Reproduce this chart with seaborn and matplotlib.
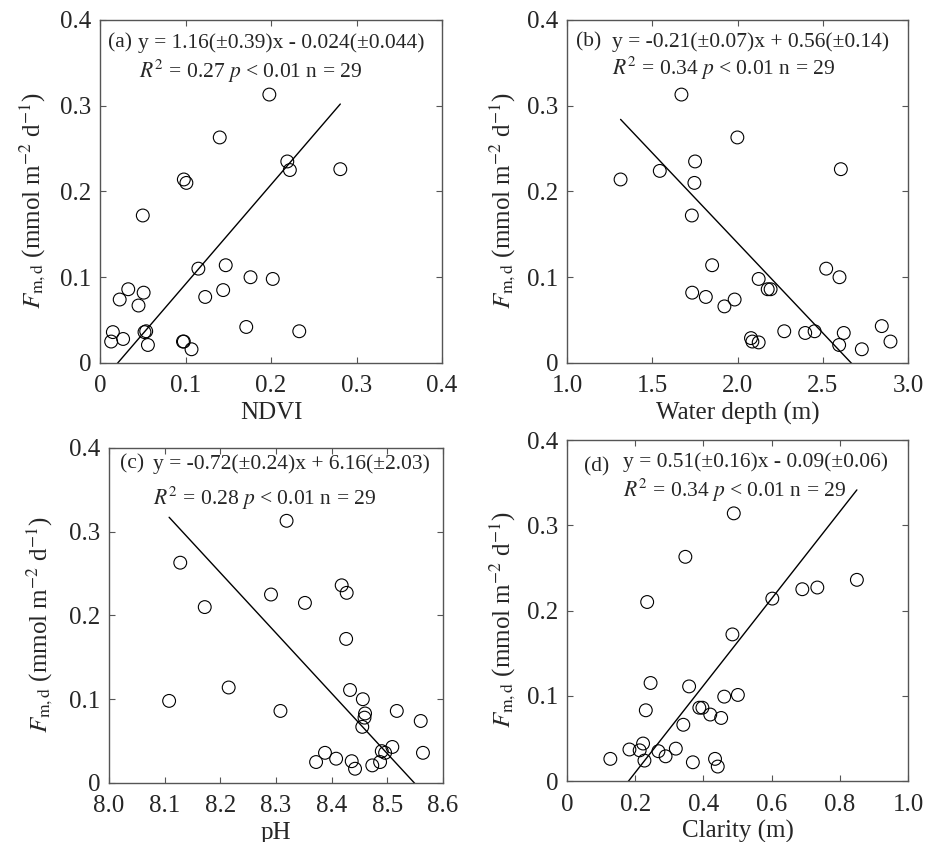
import numpy as np
import pandas as pd
import matplotlib
matplotlib.use("Agg")
import matplotlib.pyplot as plt
import seaborn as sns

# Fm,d (mmol m-2 d-1) against four drivers, n = 29 each
ndvi = [0.198, 0.140, 0.219, 0.222, 0.281, 0.098, 0.101, 0.050, 0.115, 0.147,
        0.176, 0.202, 0.144, 0.123, 0.033, 0.023, 0.051, 0.045, 0.015, 0.013,
        0.027, 0.052, 0.054, 0.056, 0.097, 0.098, 0.107, 0.171, 0.233]
flux_a = [0.313, 0.263, 0.235, 0.225, 0.226, 0.214, 0.210, 0.172, 0.110, 0.114,
          0.100, 0.098, 0.085, 0.077, 0.086, 0.074, 0.082, 0.067, 0.036, 0.025,
          0.028, 0.036, 0.037, 0.021, 0.025, 0.025, 0.016, 0.042, 0.037]

depth = [1.671, 1.999, 2.606, 1.751, 1.544, 1.314, 1.747, 1.732, 1.851, 2.520,
         2.598, 2.124, 2.177, 2.194, 1.734, 1.814, 1.983, 1.923, 2.079, 2.087,
         2.124, 2.274, 2.397, 2.452, 2.623, 2.596, 2.729, 2.846, 2.897]
flux_b = [0.313, 0.263, 0.226, 0.235, 0.224, 0.214, 0.210, 0.172, 0.114, 0.110,
          0.100, 0.098, 0.086, 0.086, 0.082, 0.077, 0.074, 0.066, 0.029, 0.025,
          0.024, 0.037, 0.035, 0.037, 0.035, 0.021, 0.016, 0.043, 0.025]

ph = [8.319, 8.128, 8.172, 8.291, 8.352, 8.418, 8.427, 8.426, 8.215, 8.108,
      8.308, 8.433, 8.456, 8.460, 8.459, 8.455, 8.517, 8.560, 8.564, 8.388,
      8.372, 8.408, 8.436, 8.442, 8.473, 8.487, 8.490, 8.496, 8.509]
flux_c = [0.313, 0.263, 0.210, 0.225, 0.215, 0.236, 0.227, 0.172, 0.114, 0.098,
          0.086, 0.111, 0.100, 0.083, 0.078, 0.067, 0.086, 0.074, 0.036, 0.036,
          0.025, 0.029, 0.026, 0.017, 0.021, 0.025, 0.038, 0.036, 0.043]

clarity = [0.489, 0.347, 0.850, 0.690, 0.734, 0.602, 0.235, 0.485, 0.245, 0.358,
           0.461, 0.501, 0.231, 0.388, 0.397, 0.420, 0.452, 0.341, 0.127, 0.183,
           0.213, 0.223, 0.227, 0.268, 0.289, 0.319, 0.369, 0.434, 0.442]
flux_d = [0.314, 0.263, 0.236, 0.225, 0.227, 0.214, 0.210, 0.172, 0.115, 0.111,
          0.099, 0.101, 0.083, 0.086, 0.086, 0.078, 0.074, 0.066, 0.026, 0.037,
          0.036, 0.044, 0.024, 0.035, 0.029, 0.038, 0.022, 0.026, 0.017]

# regression slope / intercept per panel
fit_a = (1.16, -0.024)
fit_b = (-0.21, 0.56)
fit_c = (-0.72, 6.155)
fit_d = (0.51, -0.092)

sns.set_theme(style="ticks")
plt.rcParams["font.family"] = ["Liberation Serif", "DejaVu Serif"]
plt.rcParams["mathtext.fontset"] = "stix"
plt.rcParams["xtick.direction"] = "in"
plt.rcParams["ytick.direction"] = "in"

fig = plt.figure(figsize=(9.34, 8.42), dpi=100)

panels = [
    dict(pos=[0.1071, 0.5689, 0.3662, 0.4074], x=ndvi, y=flux_a, fit=fit_a,
         xlim=(0, 0.4), xticks=[0, 0.1, 0.2, 0.3, 0.4],
         xtl=["0", "0.1", "0.2", "0.3", "0.4"], xlabel="NDVI", ylx=-0.196,
         tag="(a)", tag_xy=(0.024, 0.933),
         eq="y = 1.16(±0.39)x - 0.024(±0.044)", eq_xy=(0.112, 0.933),
         st="$R^2$ = 0.27 $p$ < 0.01 n = 29", st_xy=(0.115, 0.849)),
    dict(pos=[0.6071, 0.5689, 0.3651, 0.4074], x=depth, y=flux_b, fit=fit_b,
         xlim=(1.0, 3.0), xticks=[1.0, 1.5, 2.0, 2.5, 3.0],
         xtl=["1.0", "1.5", "2.0", "2.5", "3.0"], xlabel="Water depth (m)",
         ylx=-0.19,
         tag="(b)", tag_xy=(0.026, 0.936),
         eq="y = -0.21(±0.07)x + 0.56(±0.14)", eq_xy=(0.131, 0.936),
         st="$R^2$ = 0.34 $p$ < 0.01 n = 29", st_xy=(0.131, 0.859)),
    dict(pos=[0.1167, 0.0701, 0.3576, 0.3979], x=ph, y=flux_c, fit=fit_c,
         xlim=(8.0, 8.6), xticks=[8.0, 8.1, 8.2, 8.3, 8.4, 8.5, 8.6],
         xtl=["8.0", "8.1", "8.2", "8.3", "8.4", "8.5", "8.6"], xlabel="pH",
         ylx=-0.207,
         tag="(c)", tag_xy=(0.033, 0.953),
         eq="y = -0.72(±0.24)x + 6.16(±2.03)", eq_xy=(0.133, 0.953),
         st="$R^2$ = 0.28 $p$ < 0.01 n = 29", st_xy=(0.133, 0.849)),
    dict(pos=[0.6071, 0.0724, 0.3651, 0.4050], x=clarity, y=flux_d, fit=fit_d,
         xlim=(0, 1.0), xticks=[0, 0.2, 0.4, 0.6, 0.8, 1.0],
         xtl=["0", "0.2", "0.4", "0.6", "0.8", "1.0"], xlabel="Clarity (m)",
         ylx=-0.19,
         tag="(d)", tag_xy=(0.051, 0.922),
         eq="y = 0.51(±0.16)x - 0.09(±0.06)", eq_xy=(0.165, 0.936),
         st="$R^2$ = 0.34 $p$ < 0.01 n = 29", st_xy=(0.165, 0.853)),
]

ylabel = r"$F_{\mathrm{m,d}}$ (mmol m$^{-2}$ d$^{-1}$)"

for p in panels:
    ax = fig.add_axes(p["pos"])
    df = pd.DataFrame({"x": p["x"], "y": p["y"]})
    sns.scatterplot(data=df, x="x", y="y", ax=ax, s=85, facecolor="none",
                    edgecolor="black", linewidth=0.8, zorder=3)
    slope, icpt = p["fit"]
    lx = np.array([df["x"].min(), df["x"].max()])
    sns.lineplot(x=lx, y=slope * lx + icpt, ax=ax, color="black", lw=1.0)

    ax.set_xlim(*p["xlim"])
    ax.set_ylim(0, 0.4)
    ax.set_xticks(p["xticks"])
    ax.set_xticklabels(p["xtl"])
    ax.set_yticks([0, 0.1, 0.2, 0.3, 0.4])
    ax.set_yticklabels(["0", "0.1", "0.2", "0.3", "0.4"])
    ax.tick_params(top=True, right=True, length=4, width=0.8, labelsize=18,
                   color="#555555")
    ax.tick_params(axis="x", pad=9)
    ax.tick_params(axis="y", pad=6)
    for sp in ax.spines.values():
        sp.set_color("#555555")
        sp.set_linewidth(1.0)
    ax.set_xlabel(p["xlabel"], fontsize=18, labelpad=3)
    ax.set_ylabel(ylabel, fontsize=18, va="center")
    ax.yaxis.set_label_coords(p["ylx"], 0.474)

    ax.text(*p["tag_xy"], p["tag"], transform=ax.transAxes, fontsize=15.5,
            ha="left", va="center")
    ax.text(*p["eq_xy"], p["eq"], transform=ax.transAxes, fontsize=15.5,
            ha="left", va="center")
    ax.text(*p["st_xy"], p["st"], transform=ax.transAxes, fontsize=15.5,
            ha="left", va="center")

fig.savefig("out.png", dpi=100)
